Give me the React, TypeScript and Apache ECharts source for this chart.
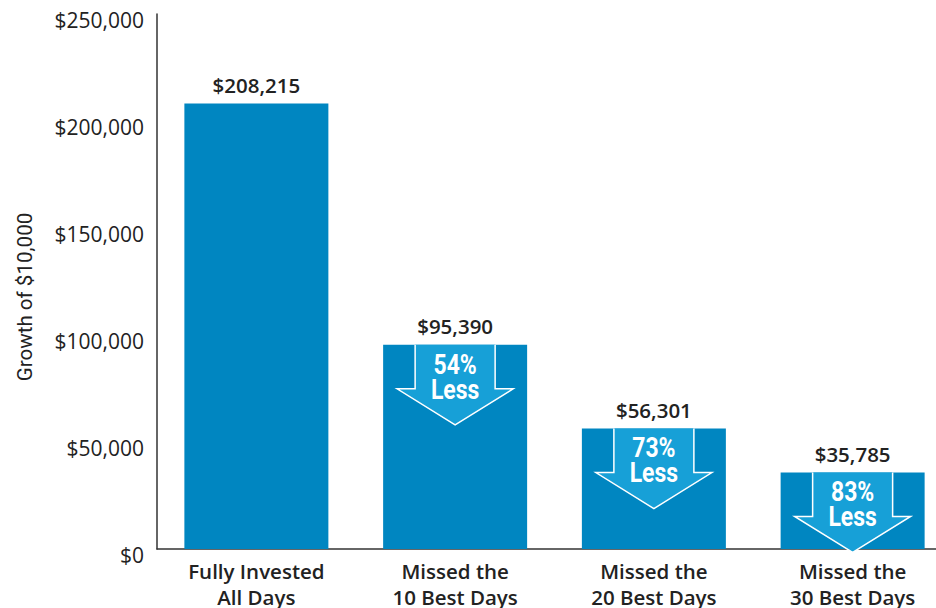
import React, { useEffect, useRef } from "react";
import * as echarts from "echarts";

const categories = [
  "Fully Invested\nAll Days",
  "Missed the\n10 Best Days",
  "Missed the\n20 Best Days",
  "Missed the\n30 Best Days",
];
const values = [208215, 95390, 56301, 35785];
const lessPct = ["", "54%", "73%", "83%"];
const yTicks = [0, 50000, 100000, 150000, 200000, 250000];

const BAR = "#0086c1";
const ARROW = "#17a0d7";
const TEXT = "#222222";

function fmt(v: number) {
  return "$" + v.toLocaleString("en-US");
}

export default function App() {
  const ref = useRef<HTMLDivElement>(null);
  useEffect(() => {
    if (!ref.current) return;
    document.body.style.margin = "0";
    const chart = echarts.init(ref.current, undefined, { renderer: "svg" });
    const arrowData = values
      .map((v, i) => [i, v, lessPct[i]])
      .filter((d) => d[2] !== "");
    chart.setOption({
      animation: false,
      grid: {
        left: 157,
        top: 14,
        height: 535,
        width: 795,
        containLabel: false,
        outerBoundsMode: "none",
      },
      xAxis: {
        type: "category",
        data: categories,
        axisLine: { lineStyle: { color: "#333", width: 1.5 } },
        axisTick: { show: false },
        axisLabel: {
          color: TEXT,
          fontFamily: "Open Sans",
          fontSize: 20.5,
          fontWeight: 600,
          lineHeight: 26,
          margin: 9,
          interval: 0,
        },
      },
      yAxis: {
        type: "value",
        min: yTicks[0],
        max: yTicks[yTicks.length - 1],
        interval: 50000,
        splitLine: { show: false },
        axisLine: { show: true, lineStyle: { color: "#333", width: 1.5 } },
        axisTick: { show: false },
        axisLabel: {
          color: TEXT,
          fontFamily: "Open Sans",
          fontSize: 21,
          margin: 13,
          verticalAlign: "top",
          lineHeight: 12,
          formatter: (v: number) => fmt(v),
        },
      },
      graphic: [
        {
          type: "text",
          x: 25,
          y: 297,
          rotation: Math.PI / 2,
          scaleX: 0.98,
          style: {
            text: "Growth of $10,000",
            fill: TEXT,
            font: "21px Roboto",
            align: "center",
            verticalAlign: "middle",
          },
        },
      ],
      series: [
        {
          type: "bar",
          data: values,
          barWidth: 144,
          itemStyle: { color: BAR },
          label: {
            show: true,
            position: "top",
            distance: 8,
            color: TEXT,
            fontFamily: "Open Sans",
            fontWeight: 600,
            fontSize: 20.5,
            formatter: (p: any) => fmt(p.value),
          },
        },
        {
          type: "custom",
          data: arrowData,
          z: 5,
          renderItem: (params: any, api: any) => {
            const p = api.coord([api.value(0), api.value(1)]);
            const pct = arrowData[params.dataIndex][2] as string;
            const sw = 40,
              hw = 58,
              sl = 44,
              hl = 36;
            const pts = [
              [-sw, 0],
              [sw, 0],
              [sw, sl],
              [hw, sl],
              [0, sl + hl],
              [-hw, sl],
              [-sw, sl],
            ];
            const outline = pts.slice(1).concat([pts[0]]);
            return {
              type: "group",
              x: p[0],
              y: p[1],
              children: [
                {
                  type: "polygon",
                  shape: { points: pts },
                  style: { fill: ARROW },
                },
                {
                  type: "polyline",
                  shape: { points: outline },
                  style: { stroke: "#ffffff", lineWidth: 1.5, fill: "none" },
                },
                {
                  type: "text",
                  x: 0,
                  y: 19,
                  scaleX: 0.82,
                  style: {
                    text: pct,
                    fill: "#ffffff",
                    font: "bold 28px Roboto",
                    align: "center",
                    verticalAlign: "middle",
                  },
                },
                {
                  type: "text",
                  x: 0,
                  y: 44,
                  scaleX: 0.82,
                  style: {
                    text: "Less",
                    fill: "#ffffff",
                    font: "bold 28px Roboto",
                    align: "center",
                    verticalAlign: "middle",
                  },
                },
              ],
            };
          },
        },
      ],
    });
    return () => chart.dispose();
  }, []);
  return <div ref={ref} style={{ width: 936, height: 608 }} />;
}
